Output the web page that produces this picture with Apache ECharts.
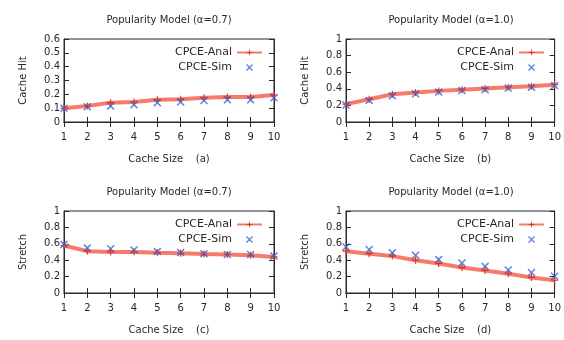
<!DOCTYPE html>
<html>
<head>
<meta charset="utf-8">
<script src="https://cdn.jsdelivr.net/npm/echarts@6/dist/echarts.min.js"></script>
<style>html,body{margin:0;padding:0;background:#fff}#c{width:564px;height:340px}</style>
</head>
<body>
<div id="c"></div>
<script>
const cacheSizes = [1, 2, 3, 4, 5, 6, 7, 8, 9, 10];
const hitAnal07 = [0.10, 0.115, 0.14, 0.145, 0.16, 0.165, 0.175, 0.18, 0.18, 0.195];
const hitSim07 = [0.10, 0.11, 0.115, 0.125, 0.14, 0.145, 0.155, 0.16, 0.16, 0.175];
const hitAnal10 = [0.215, 0.275, 0.335, 0.355, 0.375, 0.39, 0.405, 0.42, 0.43, 0.45];
const hitSim10 = [0.205, 0.26, 0.315, 0.34, 0.36, 0.38, 0.39, 0.41, 0.42, 0.44];
const stretchAnal07 = [0.58, 0.51, 0.50, 0.50, 0.49, 0.485, 0.475, 0.47, 0.46, 0.44];
const stretchSim07 = [0.59, 0.55, 0.54, 0.525, 0.505, 0.495, 0.48, 0.47, 0.47, 0.45];
const stretchAnal10 = [0.51, 0.48, 0.45, 0.40, 0.36, 0.31, 0.275, 0.235, 0.19, 0.155];
const stretchSim10 = [0.56, 0.53, 0.49, 0.46, 0.41, 0.365, 0.325, 0.28, 0.25, 0.205];
const titles = ['Popularity Model (\u03b1=0.7)', 'Popularity Model (\u03b1=1.0)', 'Popularity Model (\u03b1=0.7)', 'Popularity Model (\u03b1=1.0)'];
const xNames = ['Cache Size    (a)', 'Cache Size    (b)', 'Cache Size    (c)', 'Cache Size    (d)'];
const yNames = ['Cache Hit', 'Cache Hit', 'Stretch', 'Stretch'];
const yMax = [0.6, 1, 1, 1];
const yStep = [0.1, 0.2, 0.2, 0.2];
const analData = [hitAnal07, hitAnal10, stretchAnal07, stretchAnal10];
const simData = [hitSim07, hitSim10, stretchSim07, stretchSim10];

const panels = [
  {left: 64, top: 39, width: 210, height: 83},
  {left: 346, top: 39, width: 210, height: 83},
  {left: 64, top: 211, width: 210, height: 82},
  {left: 346, top: 211, width: 210, height: 82}
];
const txt = '#2e2624';
const frame = '#2a2a2a';
const plusPath = 'path://M4.2,0 L5.8,0 L5.8,4.2 L10,4.2 L10,5.8 L5.8,5.8 L5.8,10 L4.2,10 L4.2,5.8 L0,5.8 L0,4.2 L4.2,4.2 Z';
const xPath = 'path://M0,1.3 L1.3,0 L5,3.7 L8.7,0 L10,1.3 L6.3,5 L10,8.7 L8.7,10 L5,6.3 L1.3,10 L0,8.7 L3.7,5 Z';

const grid = [], xAxis = [], yAxis = [], series = [], title = [], legend = [];
panels.forEach((p, i) => {
  grid.push({left: p.left, top: p.top, width: p.width, height: p.height, show: true, borderColor: frame, borderWidth: 1, backgroundColor: 'transparent'});
  const cx = p.left + p.width / 2;
  title.push({text: titles[i], left: cx - 5, top: p.top - 29, textAlign: 'center',
    textStyle: {fontFamily: 'DejaVu Sans', fontSize: 10, fontWeight: 'normal', color: txt}});
  const common = {type: 'value', min: 1, max: 10, interval: 1, gridIndex: i, splitLine: {show: false},
    axisLine: {show: true, lineStyle: {color: frame}}, axisTick: {show: true, inside: true, length: 5, lineStyle: {color: frame}}};
  xAxis.push(Object.assign({}, common, {position: 'bottom', name: xNames[i], nameLocation: 'middle', nameGap: 32,
    nameTextStyle: {fontFamily: 'DejaVu Sans', fontSize: 10, color: txt},
    axisLabel: {fontFamily: 'DejaVu Sans', fontSize: 10, color: txt, margin: 10}}));
  xAxis.push(Object.assign({}, common, {position: 'top', axisLabel: {show: false}}));
  const yc = {type: 'value', min: 0, max: yMax[i], interval: yStep[i], gridIndex: i, splitLine: {show: false},
    axisLine: {show: true, lineStyle: {color: frame}}, axisTick: {show: true, inside: true, length: 5, lineStyle: {color: frame}}};
  yAxis.push(Object.assign({}, yc, {position: 'left', name: yNames[i], nameLocation: 'middle', nameGap: 36,
    nameTextStyle: {fontFamily: 'DejaVu Sans', fontSize: 10, color: txt},
    axisLabel: {fontFamily: 'DejaVu Sans', fontSize: 10, color: txt, margin: 4}}));
  yAxis.push(Object.assign({}, yc, {position: 'right', axisLabel: {show: false}}));
  series.push({name: 'CPCE-Anal', type: 'line', xAxisIndex: 2 * i, yAxisIndex: 2 * i,
    data: cacheSizes.map((x, k) => [x, analData[i][k]]),
    symbol: plusPath, symbolSize: 7, showSymbol: true,
    lineStyle: {color: '#f56452', width: 4, opacity: 0.85},
    itemStyle: {color: '#e5301f'}, z: 2});
  series.push({name: 'CPCE-Sim', type: 'scatter', xAxisIndex: 2 * i, yAxisIndex: 2 * i,
    data: cacheSizes.map((x, k) => [x, simData[i][k]]),
    symbol: xPath, symbolSize: 8,
    itemStyle: {color: '#3a62cc'}, z: 3});
  legend.push({orient: 'vertical', right: 564 - (p.left + p.width - 6), top: p.top + 3,
    align: 'right', itemWidth: 25, itemHeight: 7, itemGap: 4,
    data: ['CPCE-Anal', 'CPCE-Sim'],
    textStyle: {fontFamily: 'DejaVu Sans', fontSize: 11, color: txt, width: 62, align: 'right'}});
});

const chart = echarts.init(document.getElementById('c'));
chart.setOption({backgroundColor: '#fff', animation: false, title, legend, grid, xAxis, yAxis, series});
</script>
</body>
</html>
